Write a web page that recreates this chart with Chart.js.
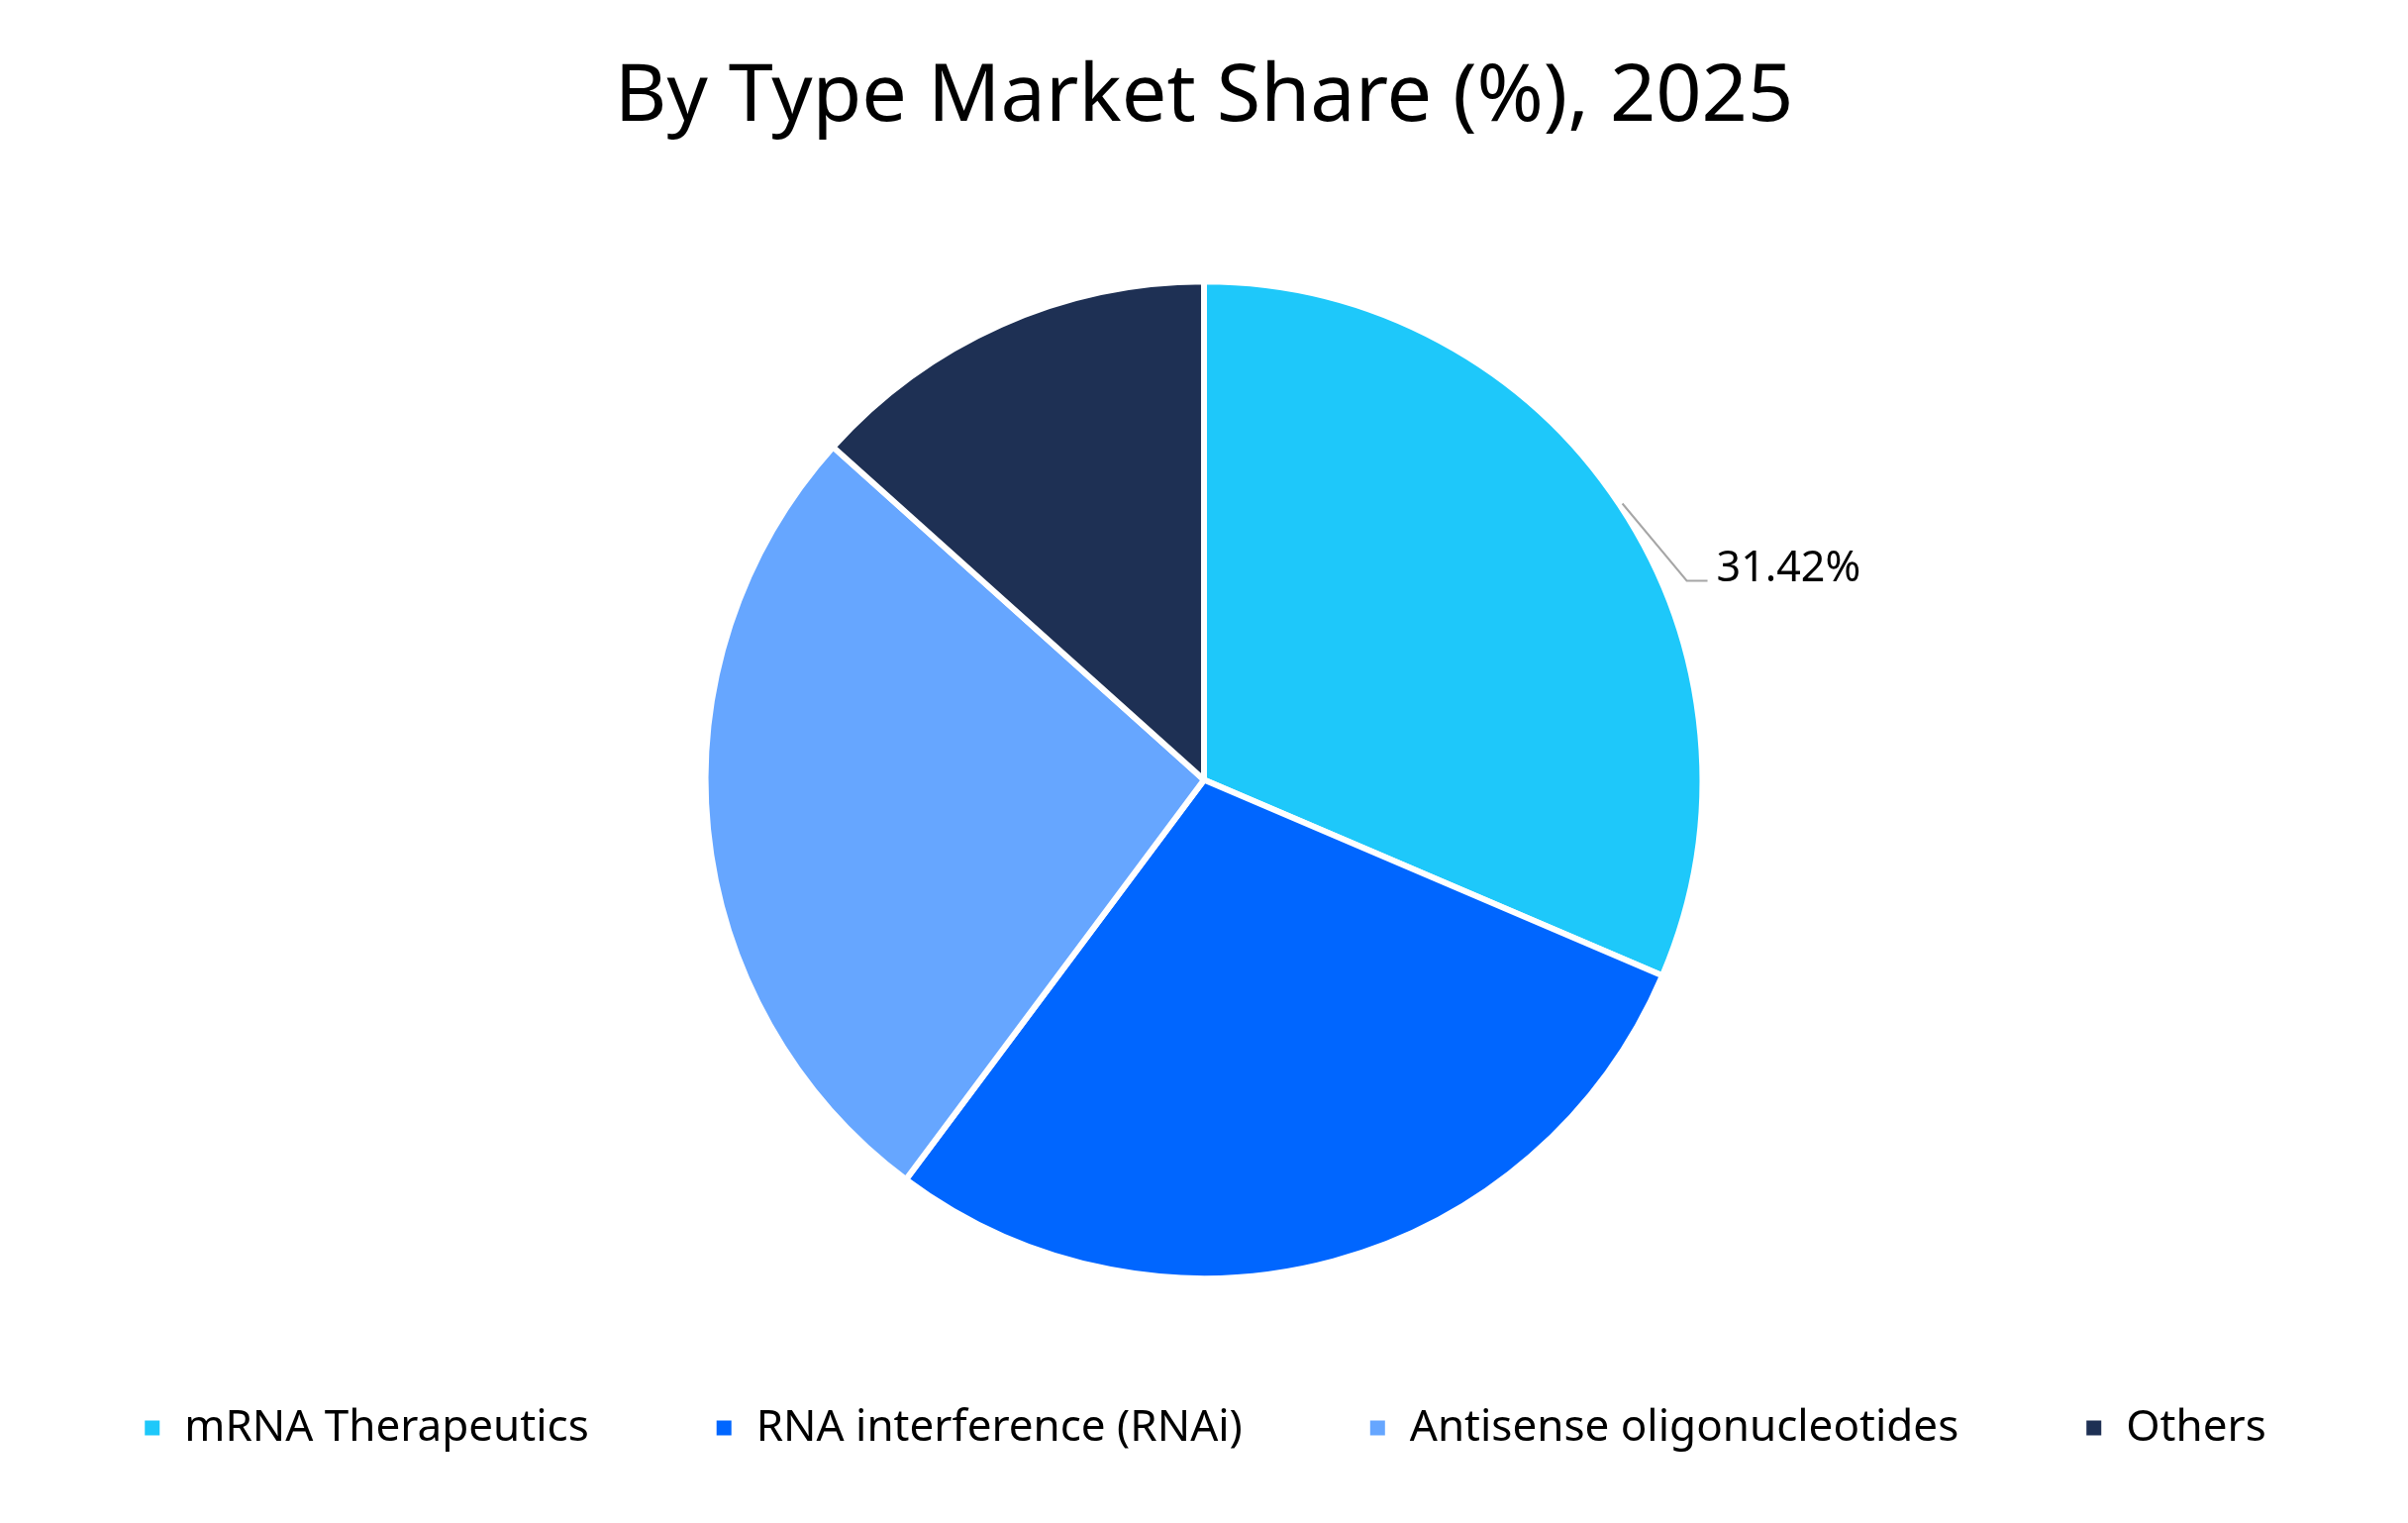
<!DOCTYPE html>
<html>
<head>
<meta charset="utf-8">
<script src="https://cdn.jsdelivr.net/npm/chart.js@4"></script>
<style>
html,body{margin:0;padding:0;background:#fff;}
#wrap{width:2432px;height:1538px;position:relative;}
</style>
</head>
<body>
<div id="wrap"><canvas id="c"></canvas></div>
<script>
const categories = ["mRNA Therapeutics", "RNA interference (RNAi)", "Antisense oligonucleotides", "Others"];
const shares = [31.42, 28.78, 26.44, 13.36];
const colors = ["#1EC8FA", "#0066FF", "#66A6FF", "#1E3054"];
const labelled = [true, false, false, false];
const titleText = "By Type Market Share (%), 2025";

const leaderPlugin = {
  id: 'leader',
  afterDatasetsDraw(chart) {
    const meta = chart.getDatasetMeta(0);
    const ctx = chart.ctx;
    meta.data.forEach((arc, i) => {
      if (!labelled[i]) return;
      const p = arc.getProps(['x','y','startAngle','endAngle','outerRadius'], true);
      const mid = (p.startAngle + p.endAngle) / 2;
      const sx = p.x + (p.outerRadius + 3) * Math.cos(mid);
      const sy = p.y + (p.outerRadius + 3) * Math.sin(mid);
      const ex = sx + 65, ey = sy + 78;
      const hx = ex + 21;
      ctx.save();
      ctx.strokeStyle = '#A6A6A6';
      ctx.lineWidth = 2;
      ctx.beginPath();
      ctx.moveTo(sx, sy); ctx.lineTo(ex, ey); ctx.lineTo(hx, ey);
      ctx.stroke();
      ctx.fillStyle = '#000';
      ctx.font = '43px "Noto Sans"';
      ctx.textAlign = 'left';
      ctx.textBaseline = 'alphabetic';
      ctx.fillText(shares[i].toFixed(2) + '%', hx + 9, ey);
      ctx.restore();
    });
  }
};

new Chart(document.getElementById('c'), {
  type: 'pie',
  data: {
    labels: categories,
    datasets: [{
      data: shares,
      backgroundColor: colors,
      borderColor: '#ffffff',
      borderWidth: 6
    }]
  },
  options: {
    responsive: true,
    maintainAspectRatio: false,
    animation: false,
    devicePixelRatio: 1,
    layout: { padding: { bottom: 64 } },
    plugins: {
      tooltip: { enabled: false },
      title: {
        display: true,
        text: titleText,
        color: '#000',
        font: { family: '"Noto Sans"', size: 81, weight: 'normal', lineHeight: 1.2 },
        padding: { top: 50, bottom: 134 }
      },
      legend: {
        position: 'bottom',
        labels: {
          color: '#000',
          font: { family: '"Noto Sans"', size: 44 },
          boxWidth: 21,
          boxHeight: 21,
          padding: 126
        }
      }
    }
  },
  plugins: [leaderPlugin]
});
</script>
</body>
</html>
